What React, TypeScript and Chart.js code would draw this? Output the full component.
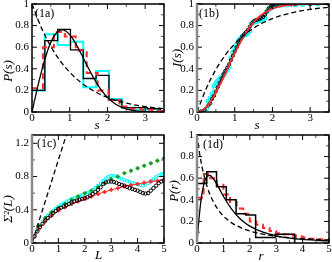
import React, { useEffect, useRef } from "react";
import { Chart, registerables } from "chart.js";

Chart.register(...registerables);

const FONT = "'Liberation Serif','Times New Roman',serif";
const W = 332;
const H = 262;

// ---------------- (1a) ----------------
const A_X_TICKS = [0, 1, 2, 3];
const A_X_MINOR = [0.5, 1.5, 2.5, 3.5];
const A_Y_TICKS = [0, 0.2, 0.4, 0.6, 0.8, 1];
const A_Y_MINOR = [0.1, 0.3, 0.5, 0.7, 0.9];
const A_HIST_EDGES = [0, 0.34, 0.68, 1.02, 1.36, 1.7, 2.04, 2.38, 2.72, 3.06, 3.4];
const A_CYAN = [0.2, 0.72, 0.62, 0.65, 0.23, 0.38, 0.12, 0.04, 0.02, 0.03];
const A_BLACK = [0.2, 0.66, 0.765, 0.575, 0.31, 0.34, 0.11, 0.04, 0.04, 0.03];
const A_RED_EDGES = [0, 0.29, 0.58, 0.87, 1.16, 1.45, 1.74, 2.03, 2.32, 2.61, 2.9, 3.19, 3.48];
const A_RED = [0.22, 0.6, 0.74, 0.7, 0.57, 0.36, 0.2, 0.11, 0.05, 0.03, 0.02, 0.01];
const A_WIG_S = [0, 0.1, 0.2, 0.3, 0.4, 0.5, 0.6, 0.7, 0.8, 0.9, 1.0, 1.1, 1.2, 1.3, 1.4, 1.5, 1.6, 1.7, 1.8, 1.9, 2.0, 2.2, 2.4, 2.6, 2.8, 3.0, 3.25, 3.5];
const A_WIG_P = [0, 0.156, 0.304, 0.439, 0.554, 0.645, 0.71, 0.748, 0.76, 0.748, 0.716, 0.668, 0.608, 0.542, 0.472, 0.403, 0.337, 0.276, 0.222, 0.175, 0.136, 0.077, 0.041, 0.02, 0.009, 0.004, 0.001, 0.0002];
const A_POI_S = [0, 0.25, 0.5, 0.75, 1.0, 1.25, 1.5, 1.75, 2.0, 2.25, 2.5, 2.75, 3.0, 3.25, 3.5];
const A_POI_P = [1, 0.779, 0.607, 0.472, 0.368, 0.287, 0.223, 0.174, 0.135, 0.105, 0.082, 0.064, 0.05, 0.039, 0.03];

// ---------------- (1b) ----------------
const B_X_TICKS = [0, 1, 2, 3];
const B_X_MINOR = [0.5, 1.5, 2.5, 3.5];
const B_Y_TICKS = [0, 0.2, 0.4, 0.6, 0.8, 1];
const B_Y_MINOR = [0.1, 0.3, 0.5, 0.7, 0.9];
const B_POI_S = [0, 0.25, 0.5, 0.75, 1.0, 1.25, 1.5, 1.75, 2.0, 2.25, 2.5, 2.75, 3.0, 3.25, 3.5];
const B_POI_I = [0, 0.221, 0.393, 0.528, 0.632, 0.713, 0.777, 0.826, 0.865, 0.895, 0.918, 0.936, 0.95, 0.961, 0.97];
const B_WIG_S = [0, 0.1, 0.2, 0.3, 0.4, 0.5, 0.6, 0.7, 0.8, 0.9, 1.0, 1.1, 1.2, 1.3, 1.4, 1.5, 1.6, 1.7, 1.8, 1.9, 2.0, 2.2, 2.4, 2.6, 2.8, 3.0, 3.5];
const B_WIG_I = [0, 0.008, 0.031, 0.068, 0.118, 0.178, 0.246, 0.319, 0.395, 0.471, 0.544, 0.613, 0.677, 0.735, 0.786, 0.829, 0.866, 0.897, 0.922, 0.941, 0.957, 0.978, 0.989, 0.995, 0.998, 0.999, 1.0];
const B_CYAN_S = [0, 0.1, 0.2, 0.25, 0.3, 0.35, 0.4, 0.45, 0.5, 0.55, 0.6, 0.65, 0.7, 0.75, 0.8, 0.85, 0.9, 0.95, 1.0, 1.05, 1.1, 1.15, 1.2, 1.25, 1.3, 1.35, 1.4, 1.45, 1.5, 1.55, 1.6, 1.65, 1.7, 1.75, 1.8, 1.85, 1.9, 1.95, 2.0, 2.05, 2.2, 2.4, 2.6, 2.8, 3.0, 3.2, 3.5];
const B_CYAN_I = [0, 0, 0.005, 0.03, 0.1, 0.13, 0.17, 0.24, 0.27, 0.29, 0.31, 0.32, 0.34, 0.36, 0.39, 0.42, 0.5, 0.55, 0.59, 0.62, 0.66, 0.68, 0.7, 0.71, 0.72, 0.73, 0.75, 0.82, 0.83, 0.835, 0.84, 0.845, 0.85, 0.86, 0.87, 0.93, 0.95, 0.96, 0.97, 0.98, 0.985, 0.99, 0.99, 0.995, 1, 1, 1];
const B_BLACK_S = [0, 0.1, 0.2, 0.3, 0.35, 0.4, 0.45, 0.5, 0.55, 0.6, 0.65, 0.7, 0.75, 0.8, 0.85, 0.9, 0.95, 1.0, 1.05, 1.1, 1.15, 1.2, 1.25, 1.3, 1.35, 1.4, 1.45, 1.5, 1.55, 1.6, 1.65, 1.7, 1.75, 1.8, 1.85, 1.9, 1.95, 2.0, 2.1, 2.3, 2.6, 3.0, 3.5];
const B_BLACK_I = [0, 0.005, 0.02, 0.06, 0.08, 0.12, 0.15, 0.19, 0.23, 0.27, 0.31, 0.35, 0.38, 0.41, 0.44, 0.48, 0.52, 0.56, 0.6, 0.64, 0.67, 0.7, 0.72, 0.74, 0.76, 0.79, 0.82, 0.84, 0.85, 0.855, 0.86, 0.87, 0.88, 0.9, 0.93, 0.96, 0.975, 0.985, 0.99, 0.995, 1, 1, 1];

// ---------------- (1c) ----------------
const C_X_TICKS = [0, 1, 2, 3, 4, 5];
const C_X_MINOR = [0.5, 1.5, 2.5, 3.5, 4.5];
const C_Y_TICKS = [0, 0.4, 0.8, 1.2];
const C_Y_MINOR = [0.2, 0.6, 1.0];
const C_POI_L = [0, 1.3];
const C_POI_V = [0, 1.3];
const C_L25 = [0, 0.25, 0.5, 0.75, 1.0, 1.25, 1.5, 1.75, 2.0, 2.25, 2.5, 2.75, 3.0, 3.25, 3.5, 3.75, 4.0, 4.25, 4.5, 4.75, 5.0];
const C_GREEN = [0, 0.21, 0.3, 0.37, 0.42, 0.47, 0.52, 0.56, 0.6, 0.63, 0.67, 0.72, 0.77, 0.8, 0.84, 0.87, 0.9, 0.93, 0.96, 0.99, 1.02];
const C_RED = [0, 0.17, 0.26, 0.33, 0.39, 0.43, 0.47, 0.5, 0.53, 0.56, 0.59, 0.615, 0.64, 0.66, 0.68, 0.695, 0.71, 0.725, 0.74, 0.75, 0.765];
const C_L10 = [0, 0.1, 0.2, 0.3, 0.4, 0.5, 0.6, 0.7, 0.8, 0.9, 1.0, 1.1, 1.2, 1.3, 1.4, 1.5, 1.6, 1.7, 1.8, 1.9, 2.0, 2.1, 2.2, 2.3, 2.4, 2.5, 2.6, 2.7, 2.8, 2.9, 3.0, 3.1, 3.2, 3.3, 3.4, 3.5, 3.6, 3.7, 3.8, 3.9, 4.0, 4.1, 4.2, 4.3, 4.4, 4.5, 4.6, 4.7, 4.8, 4.9, 5.0];
const C_BLACK = [0, 0.08, 0.14, 0.19, 0.23, 0.27, 0.3, 0.33, 0.36, 0.385, 0.41, 0.425, 0.44, 0.455, 0.47, 0.49, 0.5, 0.51, 0.52, 0.53, 0.54, 0.55, 0.57, 0.59, 0.615, 0.64, 0.67, 0.71, 0.73, 0.74, 0.74, 0.735, 0.725, 0.71, 0.7, 0.69, 0.675, 0.66, 0.65, 0.64, 0.63, 0.615, 0.6, 0.595, 0.6, 0.63, 0.66, 0.69, 0.72, 0.74, 0.75];
const C_CYAN = [0, 0.09, 0.16, 0.21, 0.26, 0.3, 0.33, 0.365, 0.39, 0.415, 0.44, 0.46, 0.48, 0.5, 0.515, 0.53, 0.54, 0.555, 0.565, 0.58, 0.59, 0.605, 0.62, 0.64, 0.665, 0.69, 0.72, 0.75, 0.78, 0.8, 0.81, 0.81, 0.8, 0.785, 0.77, 0.76, 0.75, 0.735, 0.725, 0.715, 0.705, 0.695, 0.69, 0.7, 0.72, 0.745, 0.77, 0.795, 0.815, 0.83, 0.84];

// ---------------- (1d) ----------------
const D_X_TICKS = [0, 1, 2, 3, 4, 5];
const D_X_MINOR = [0.5, 1.5, 2.5, 3.5, 4.5];
const D_Y_TICKS = [0, 0.2, 0.4, 0.6, 0.8, 1];
const D_Y_MINOR = [0.1, 0.3, 0.5, 0.7, 0.9];
const D_BLACK_EDGES = [0, 0.37, 0.74, 1.11, 1.48, 1.85, 2.22, 2.59, 2.96, 3.33, 3.7];
const D_BLACK = [0.55, 0.66, 0.52, 0.4, 0.27, 0.26, 0.05, 0.05, 0.08, 0.08];
const D_RED_EDGES = [0, 0.25, 0.5, 0.75, 1.0, 1.25, 1.5, 1.75, 2.0, 2.25, 2.5, 2.75, 3.0, 3.25, 3.5, 3.75, 4.0, 4.25, 4.5, 4.75, 5.0];
const D_RED = [0.42, 0.64, 0.6, 0.54, 0.45, 0.38, 0.32, 0.27, 0.2, 0.17, 0.14, 0.11, 0.09, 0.08, 0.07, 0.06, 0.05, 0.04, 0.035, 0.03];
const D_GOE_R = [0, 0.05, 0.1, 0.15, 0.2, 0.3, 0.4, 0.5, 0.6, 0.7, 0.8, 0.9, 1.0, 1.2, 1.4, 1.6, 1.8, 2.0, 2.5, 3.0, 3.5, 4.0, 4.5, 5.0];
const D_GOE_P = [0, 0.156, 0.286, 0.391, 0.473, 0.578, 0.622, 0.625, 0.602, 0.566, 0.523, 0.477, 0.433, 0.353, 0.286, 0.232, 0.19, 0.156, 0.1, 0.067, 0.046, 0.033, 0.025, 0.019];
const D_POI_R = [0, 0.1, 0.2, 0.3, 0.4, 0.5, 0.6, 0.8, 1.0, 1.25, 1.5, 2.0, 2.5, 3.0, 3.5, 4.0, 4.5, 5.0];
const D_POI_P = [1, 0.826, 0.694, 0.592, 0.51, 0.444, 0.391, 0.309, 0.25, 0.198, 0.16, 0.111, 0.082, 0.0625, 0.049, 0.04, 0.033, 0.028];

const xy = (xs: number[], ys: number[]) => xs.map((x, i) => ({ x, y: ys[i] }));
const hist = (edges: number[], vals: number[]) => {
  const pts = vals.map((v, i) => ({ x: edges[i], y: v }));
  pts.push({ x: edges[vals.length], y: vals[vals.length - 1] });
  pts.push({ x: edges[vals.length], y: 0 });
  return pts;
};

const curve = (data: any, color: string, width: number, dash: number[] = []) => ({
  data, borderColor: color, borderWidth: width, borderDash: dash, pointRadius: 0,
  fill: false, cubicInterpolationMode: "monotone",
});
const steps = (data: any, color: string, width: number, dash: number[] = []) => ({
  data, borderColor: color, borderWidth: width, borderDash: dash, pointRadius: 0,
  fill: false, stepped: true,
});

type Panel = {
  area: number[];
  xMax: number; yMax: number;
  xTicks: number[]; xMinor: number[]; yTicks: number[]; yMinor: number[];
  datasets: any[];
  tag: string; tagDx: number; tagDy: number;
  xTitle: string; xTitleDx: number; xTitleDy: number;
  yTitle: string; yTitleDx: number; yTitleDy: number;
  greyLeft: boolean;
};

const CYAN = "#00ffff";
const RED = "#ff2a2a";

const PANELS: Panel[] = [
  {
    area: [32, 4, 164, 112], xMax: 3.5, yMax: 1,
    xTicks: A_X_TICKS, xMinor: A_X_MINOR, yTicks: A_Y_TICKS, yMinor: A_Y_MINOR,
    datasets: [
      curve(xy(A_WIG_S, A_WIG_P), "#000", 1.3),
      curve(xy(A_POI_S, A_POI_P), "#000", 1.3, [5, 3]),
      steps(hist(A_RED_EDGES, A_RED), RED, 2, [6, 4]),
      steps(hist(A_HIST_EDGES, A_BLACK), "#000", 1.3),
      steps(hist(A_HIST_EDGES, A_CYAN), CYAN, 2),
    ],
    tag: "(1a)", tagDx: 3, tagDy: 10,
    xTitle: "s", xTitleDx: -1, xTitleDy: 14,
    yTitle: "P(s)", yTitleDx: -23.5, yTitleDy: 13,
    greyLeft: false,
  },
  {
    area: [197, 4, 329, 112], xMax: 3.5, yMax: 1,
    xTicks: B_X_TICKS, xMinor: B_X_MINOR, yTicks: B_Y_TICKS, yMinor: B_Y_MINOR,
    datasets: [
      curve(xy(B_POI_S, B_POI_I), "#000", 1.3, [5, 3]),
      curve(xy(B_WIG_S, B_WIG_I), RED, 1.8),
      {
        data: xy(B_BLACK_S, B_BLACK_I), borderColor: "#000", borderWidth: 1,
        pointRadius: 1.6, pointStyle: "circle", pointBorderColor: "#000",
        pointBackgroundColor: "rgba(0,0,0,0)", pointBorderWidth: 1, fill: false,
      },
      {
        data: xy(B_CYAN_S, B_CYAN_I), borderColor: CYAN, borderWidth: 1.2,
        pointRadius: 1.9, pointStyle: "circle", pointBorderColor: CYAN,
        pointBackgroundColor: "rgba(0,0,0,0)", pointBorderWidth: 1.2, fill: false,
      },
    ],
    tag: "(1b)", tagDx: 2, tagDy: 10,
    xTitle: "s", xTitleDx: -6, xTitleDy: 14,
    yTitle: "I(s)", yTitleDx: -19.5, yTitleDy: 0,
    greyLeft: true,
  },
  {
    area: [32, 135, 164, 243], xMax: 5, yMax: 1.3,
    xTicks: C_X_TICKS, xMinor: C_X_MINOR, yTicks: C_Y_TICKS, yMinor: C_Y_MINOR,
    datasets: [
      curve(xy(C_POI_L, C_POI_V), "#000", 1.3, [5, 3]),
      {
        data: xy(C_L10, C_BLACK), showLine: false, pointRadius: 1.7, pointStyle: "circle",
        pointBorderColor: "#000", pointBackgroundColor: "rgba(0,0,0,0)", pointBorderWidth: 1,
      },
      {
        data: xy(C_L25, C_RED), borderColor: RED, borderWidth: 1, pointRadius: 2,
        pointStyle: "cross", pointBorderColor: RED, pointBorderWidth: 1.8, fill: false,
      },
      {
        data: xy(C_L25, C_GREEN), showLine: false, pointRadius: 2, pointStyle: "cross",
        pointBorderColor: "#11991a", pointBorderWidth: 1.8,
      },
      {
        data: xy(C_L10, C_CYAN), showLine: false, pointRadius: 1.7, pointStyle: "rect",
        pointBorderColor: CYAN, pointBackgroundColor: "rgba(0,0,0,0)", pointBorderWidth: 1,
      },
    ],
    tag: "(1c)", tagDx: 5, tagDy: 9,
    xTitle: "L", xTitleDx: 0.5, xTitleDy: 13,
    yTitle: "\u03A3\u00B2(L)", yTitleDx: -23, yTitleDy: 20,
    greyLeft: true,
  },
  {
    area: [197, 135, 329, 243], xMax: 5, yMax: 1,
    xTicks: D_X_TICKS, xMinor: D_X_MINOR, yTicks: D_Y_TICKS, yMinor: D_Y_MINOR,
    datasets: [
      curve(xy(D_GOE_R, D_GOE_P), "#000", 1.3),
      curve(xy(D_POI_R, D_POI_P), "#000", 1.3, [5, 3]),
      steps(hist(D_BLACK_EDGES, D_BLACK), "#000", 1.5),
      steps(hist(D_RED_EDGES, D_RED), RED, 2, [6, 4]),
    ],
    tag: "(1d)", tagDx: 6, tagDy: 10,
    xTitle: "r", xTitleDx: -2, xTitleDy: 14,
    yTitle: "P(r)", yTitleDx: -22, yTitleDy: 2,
    greyLeft: true,
  },
];

function makeFrame(p: Panel) {
  return {
    id: "frame",
    afterDraw(chart: any) {
      const { ctx, chartArea: a } = chart;
      const xs = chart.scales.x;
      const ys = chart.scales.y;
      ctx.save();
      const seg = (vals: number[], len: number, color: string, horiz: boolean) => {
        ctx.beginPath();
        ctx.strokeStyle = color;
        ctx.lineWidth = 1;
        for (const v of vals) {
          if (horiz) {
            const px = xs.getPixelForValue(v);
            ctx.moveTo(px, a.bottom); ctx.lineTo(px, a.bottom - len);
            ctx.moveTo(px, a.top); ctx.lineTo(px, a.top + len);
          } else {
            const py = ys.getPixelForValue(v);
            ctx.moveTo(a.left, py); ctx.lineTo(a.left + len, py);
            ctx.moveTo(a.right, py); ctx.lineTo(a.right - len, py);
          }
        }
        ctx.stroke();
      };
      seg(p.xMinor, 3, "#555", true);
      seg(p.yMinor, 3, "#555", false);
      seg(p.xTicks, 5, "#000", true);
      seg(p.yTicks, 5, "#000", false);
      ctx.lineWidth = 1.5;
      ctx.strokeStyle = "#000";
      ctx.strokeRect(a.left, a.top, a.right - a.left, a.bottom - a.top);
      if (p.greyLeft) {
        ctx.strokeStyle = "#8a8a8a";
        ctx.lineWidth = 2.5;
        ctx.beginPath();
        ctx.moveTo(a.left, a.top);
        ctx.lineTo(a.left, a.bottom);
        ctx.stroke();
      }
      ctx.fillStyle = "#000";
      ctx.font = `12px ${FONT}`;
      ctx.textAlign = "left";
      ctx.textBaseline = "middle";
      ctx.fillText(p.tag, a.left + p.tagDx, a.top + p.tagDy);
      const mx = (a.left + a.right) / 2;
      const my = (a.top + a.bottom) / 2;
      ctx.font = `italic 13px ${FONT}`;
      ctx.textAlign = "center";
      ctx.fillText(p.xTitle, mx + p.xTitleDx, a.bottom + p.xTitleDy);
      ctx.translate(a.left + p.yTitleDx, my + p.yTitleDy);
      ctx.rotate(-Math.PI / 2);
      ctx.fillText(p.yTitle, 0, 0);
      ctx.restore();
    },
  };
}

function makeConfig(p: Panel): any {
  const [L, T, R, B] = p.area;
  const YW = 30;
  const XH = 18;
  const tickFont = { family: FONT, size: 11 };
  return {
    type: "line",
    data: { datasets: p.datasets },
    options: {
      animation: false,
      responsive: false,
      devicePixelRatio: 1,
      events: [],
      layout: { autoPadding: false, padding: { left: L - YW, top: T, right: W - R, bottom: H - B - XH } },
      plugins: { legend: { display: false }, tooltip: { enabled: false } },
      scales: {
        x: {
          type: "linear", position: "bottom", min: 0, max: p.xMax,
          afterBuildTicks: (s: any) => { s.ticks = p.xTicks.map((v) => ({ value: v })); },
          afterFit: (s: any) => { s.height = XH; s.paddingLeft = 0; s.paddingRight = 0; s.paddingTop = 0; s.paddingBottom = 0; },
          ticks: { font: tickFont, color: "#000", padding: 0, maxRotation: 0, autoSkip: false, callback: (v: any) => String(v) },
          grid: { display: false, drawTicks: false },
          border: { display: false },
        },
        y: {
          type: "linear", position: "left", min: 0, max: p.yMax,
          afterBuildTicks: (s: any) => { s.ticks = p.yTicks.map((v) => ({ value: v })); },
          afterFit: (s: any) => { s.width = YW; s.paddingLeft = 0; s.paddingRight = 0; s.paddingTop = 0; s.paddingBottom = 0; },
          ticks: { font: tickFont, color: "#000", padding: 3, autoSkip: false, callback: (v: any) => String(v) },
          grid: { display: false, drawTicks: false },
          border: { display: false },
        },
      },
    },
    plugins: [makeFrame(p)],
  };
}

function PanelChart({ p }: { p: Panel }) {
  const ref = useRef<HTMLCanvasElement>(null);
  useEffect(() => {
    const chart = new Chart(ref.current as HTMLCanvasElement, makeConfig(p));
    return () => chart.destroy();
  }, []);
  return (
    <canvas
      ref={ref}
      width={W}
      height={H}
      style={{ position: "absolute", left: 0, top: 0, width: W, height: H }}
    />
  );
}

export default function App() {
  return (
    <div style={{ position: "fixed", left: 0, top: 0, width: W, height: H, background: "#fff" }}>
      {PANELS.map((p, i) => (
        <PanelChart key={i} p={p} />
      ))}
    </div>
  );
}
